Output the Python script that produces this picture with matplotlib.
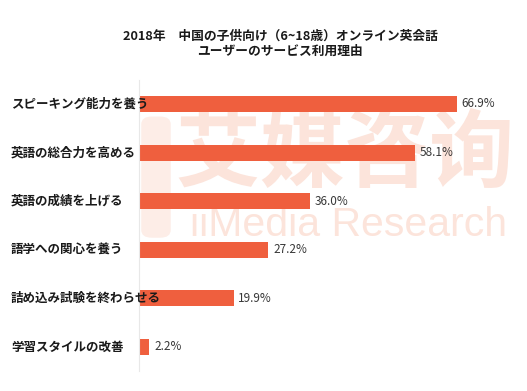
import matplotlib
matplotlib.use('Agg')
import matplotlib.pyplot as plt
import matplotlib.transforms as mtransforms
from matplotlib.patches import FancyBboxPatch

plt.rcParams['font.family'] = ['Noto Sans CJK JP', 'DejaVu Sans']

# データ
categories = ['スピーキング能力を養う', '英語の総合力を高める', '英語の成績を上げる',
              '語学への関心を養う', '詰め込み試験を終わらせる', '学習スタイルの改善']
values = [66.9, 58.1, 36.0, 27.2, 19.9, 2.2]
value_labels = ['66.9%', '58.1%', '36.0%', '27.2%', '19.9%', '2.2%']

title = '2018年　中国の子供向け（6~18歳）オンライン英会話\nユーザーのサービス利用理由'

bar_color = '#EF5F3E'
mark_color = '#FCE4DB'

fig = plt.figure(figsize=(5.27, 3.91), dpi=100)
ax = fig.add_axes([0.2638, 0.0504, 0.7212, 0.7458])
ax.set_facecolor('none')

pos = list(range(len(categories)))
ax.barh(pos, values, height=0.33, color=bar_color, zorder=2)
ax.set_ylim(len(categories) - 0.5, -0.5)
ax.set_xlim(0, 80)

# ウォーターマーク（ロゴ + 文字）
logo = FancyBboxPatch((0.268, 0.392), 0.056, 0.31, boxstyle='round,pad=0,rounding_size=0.02',
                      transform=fig.transFigure, facecolor='#FDEDE7', edgecolor='none',
                      zorder=0, clip_on=False)
ax.add_patch(logo)
ax.text(0.655, 0.605, '艾媒咨询', transform=fig.transFigure, fontsize=61,
        family=['Noto Sans CJK SC'], fontweight='bold', color=mark_color,
        ha='center', va='center', zorder=0, clip_on=False)
ax.text(0.662, 0.424, 'iiMedia Research', transform=fig.transFigure, fontsize=29.5,
        family=['Liberation Sans'], color=mark_color, ha='center', va='center',
        zorder=0, clip_on=False)

for spine in ['top', 'right', 'bottom']:
    ax.spines[spine].set_visible(False)
ax.spines['left'].set_color('#e8e8e8')
ax.spines['left'].set_linewidth(0.8)
ax.set_xticks([])
ax.set_yticks([])

# カテゴリ名
trans = mtransforms.blended_transform_factory(fig.transFigure, ax.transData)
for p, name in zip(pos, categories):
    ax.text(0.021, p, name, transform=trans, ha='left', va='center',
            fontsize=9, fontweight='bold', color='#1a1a1a', zorder=4, clip_on=False)

# 数値ラベル
for p, v, lab in zip(pos, values, value_labels):
    ax.text(v + 1.0, p, lab, ha='left', va='center', fontsize=8.5,
            color='#383838', zorder=4)

fig.text(0.532, 0.888, title, ha='center', va='center', fontsize=9.2,
         fontweight='bold', color='#1a1a1a', linespacing=1.25)

fig.savefig('out.png', dpi=100)
